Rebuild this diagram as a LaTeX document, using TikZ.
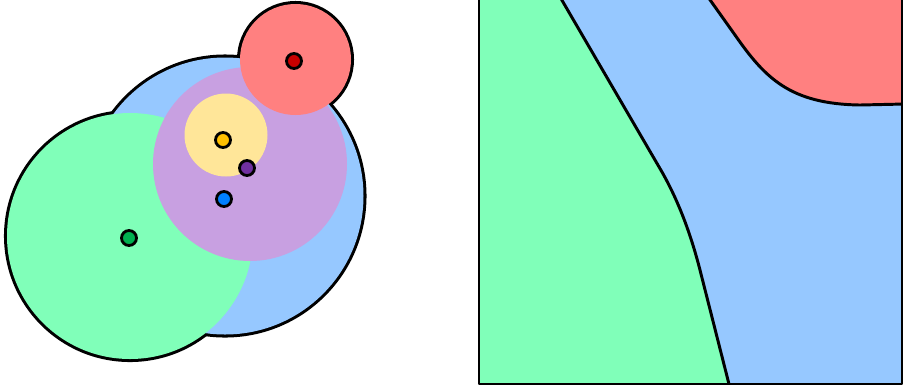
\documentclass[tikz,border=0pt]{standalone}
\usepackage{tikz}
\usepackage{xcolor}
\definecolor{zoneblue}{RGB}{150,200,255}
\definecolor{zonegreen}{RGB}{128,255,185}
\definecolor{zonered}{RGB}{255,128,128}
\definecolor{zonepurple}{RGB}{200,160,225}
\definecolor{zoneyellow}{RGB}{255,230,153}
\definecolor{dotblue}{RGB}{0,128,255}
\definecolor{dotgreen}{RGB}{0,176,80}
\definecolor{dotred}{RGB}{200,0,0}
\definecolor{dotpurple}{RGB}{112,48,160}
\definecolor{dotyellow}{RGB}{255,192,0}

\begin{document}
\begin{tikzpicture}[x=0.025cm,y=-0.025cm,line cap=round,line join=round,
  rim/.style={line width=4.3pt},
  edge/.style={line width=2.1pt},
  dot/.style={draw=black,line width=2pt}]
\useasboundingbox (0,0) rectangle (904,391);
% outer rim of the union of discs
\draw[rim] (225,196) circle (138.5);
\draw[rim] (130,236) circle (123);
\draw[rim] (295.5,59.5) circle (55.5);
% discs
\fill[zoneblue] (225,196) circle (138.5);
\fill[zonegreen] (130,236) circle (123);
\fill[zonepurple] (250,164) circle (97);
\fill[zoneyellow] (226,135) circle (41.5);
\fill[zonered] (295.5,59.5) circle (55.5);
% centres
\filldraw[dot,fill=dotred] (294,61) circle (7.5);
\filldraw[dot,fill=dotyellow] (223,140) circle (7.5);
\filldraw[dot,fill=dotpurple] (247,168) circle (7.5);
\filldraw[dot,fill=dotblue] (224,199) circle (7.5);
\filldraw[dot,fill=dotgreen] (129,238) circle (7.5);
% regions
\begin{scope}
\clip (479,-40) rectangle (902,384);
\fill[zoneblue] (479,-40) rectangle (902,384);
\fill[zonegreen] (479,-10) -- (556,-10) -- (662,172) .. controls (679,202) and (691,235) .. (700,270) -- (731,392) -- (479,392) -- cycle;
\fill[zonered] (905,-10) -- (703,-10) -- (735,35) .. controls (765,78) and (790,104) .. (860,105) -- (905,104) -- cycle;
\draw[edge] (556,-10) -- (662,172) .. controls (679,202) and (691,235) .. (700,270) -- (731,392);
\draw[edge] (703,-10) -- (735,35) .. controls (765,78) and (790,104) .. (860,105) -- (905,104);
\end{scope}
\draw[edge] (479,-40) rectangle (902,384);
\end{tikzpicture}
\end{document}
